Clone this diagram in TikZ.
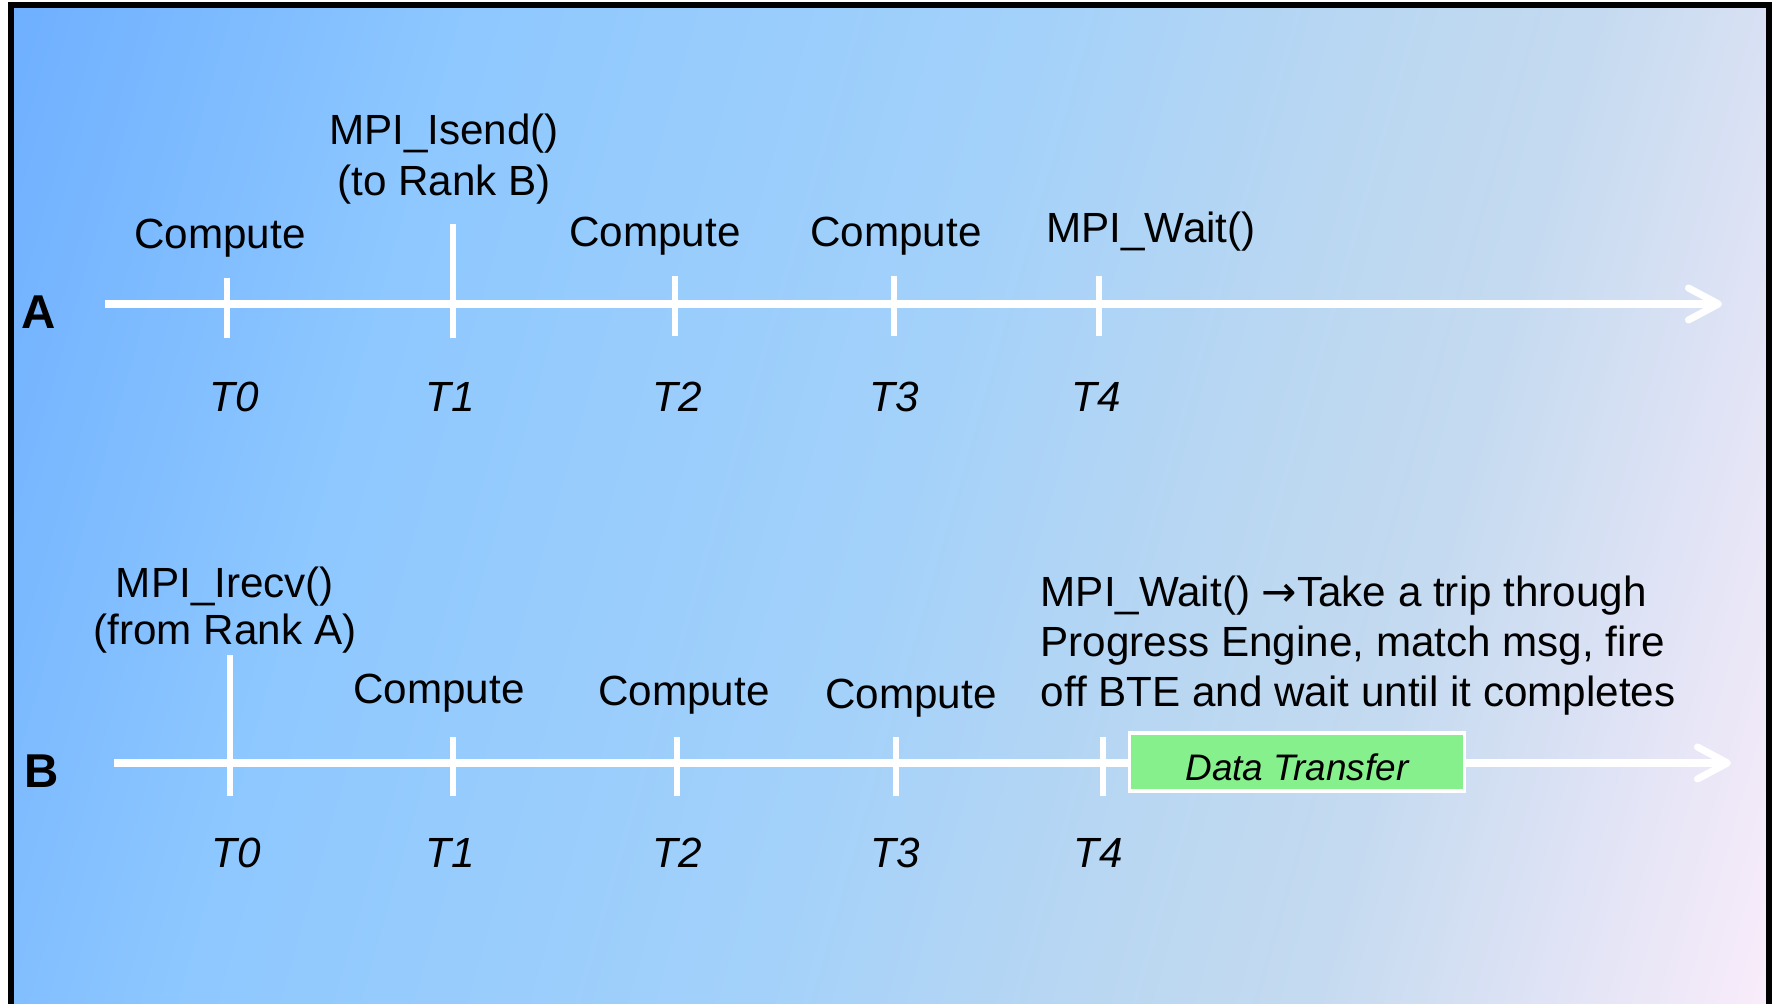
\documentclass[tikz,border=0pt]{standalone}
\usepackage{fontspec}
\setmainfont{Liberation Sans}
\newfontfamily\arrowfont{DejaVu Sans}
\usepackage{tikz}
\usetikzlibrary{arrows.meta}
\definecolor{bgA}{RGB}{110,175,255}
\definecolor{bgB}{RGB}{142,200,255}
\definecolor{bgC}{RGB}{163,209,250}
\definecolor{bgD}{RGB}{185,215,242}
\definecolor{bgE}{RGB}{196,218,240}
\definecolor{bgF}{RGB}{250,236,250}
\definecolor{xfergreen}{RGB}{134,240,140}
\pgfdeclarehorizontalshading{bgshade}{100bp}{color(0bp)=(bgA); color(19bp)=(bgA); color(33bp)=(bgB); color(50bp)=(bgC); color(60bp)=(bgD); color(67bp)=(bgE); color(81bp)=(bgF); color(100bp)=(bgF)}
\tikzset{
timeline/.style={draw=white, line width=2pt, -{Straight Barb[length=3mm,width=3.2mm,round]}},
tickmark/.style={draw=white, line width=1.8pt},
evlabel/.style={font=\fontsize{12}{14.5}\selectfont, align=center, inner sep=0pt},
tlabel/.style={font=\fontsize{12}{14}\selectfont\itshape, inner sep=0pt},
ranklabel/.style={font=\fontsize{13.5}{16}\selectfont\bfseries, inner sep=0pt},
xferbox/.style={draw=white, line width=1pt, fill=xfergreen, minimum width=3.35cm, minimum height=0.58cm, inner sep=0pt, text height=10.6pt, text depth=0pt, font=\fontsize{10.5}{12}\selectfont\itshape}}

\begin{document}
\begin{tikzpicture}[x=0.01cm, y=-0.01cm]
            \useasboundingbox (0,0) rectangle (1776,1004);
                \shade[shading=bgshade, shading angle=-16] (11,5) rectangle (1769,1010);
                \draw[black, line width=1.6pt] (11,1010) -- (11,5) -- (1769,5) -- (1769,1010);

                \coordinate (As) at (105,304);
                \coordinate (Ae) at (1722,304);
                \coordinate (Bs) at (114,763);
                \coordinate (Be) at (1731,763);

                \node[ranklabel] (rA) at (39,312) {A};
                \node[ranklabel] (rB) at (42,771) {B};

                \draw[timeline] (As) -- (Ae);
                \draw[tickmark] (227,278) -- (227,338);
                \draw[tickmark] (453,224) -- (453,338);
                \draw[tickmark] (675,276) -- (675,336);
                \draw[tickmark] (894,276) -- (894,336);
                \draw[tickmark] (1099,276) -- (1099,336);

                \node[evlabel] (a0) at (220,238) {Compute};
                \node[evlabel] (a1) at (444,159) {MPI\_Isend()\\(to Rank B)};
                \node[evlabel] (a2) at (655,236) {Compute};
                \node[evlabel] (a3) at (896,236) {Compute};
                \node[evlabel] (a4) at (1151,232) {MPI\_Wait()};

                \node[tlabel] (ta0) at (234,397) {T0};
                \node[tlabel] (ta1) at (450,397) {T1};
                \node[tlabel] (ta2) at (677,397) {T2};
                \node[tlabel] (ta3) at (894,397) {T3};
                \node[tlabel] (ta4) at (1096,397) {T4};

                \draw[timeline] (Bs) -- (Be);
                \draw[tickmark] (230,655) -- (230,796);
                \draw[tickmark] (453,737) -- (453,796);
                \draw[tickmark] (677,737) -- (677,796);
                \draw[tickmark] (896,737) -- (896,796);
                \draw[tickmark] (1103,737) -- (1103,796);

                \node[evlabel, font=\fontsize{12}{13.5}\selectfont] (b0) at (225,610) {MPI\_Irecv()\\(from Rank A)};
                \node[evlabel] (b1) at (439,693) {Compute};
                \node[evlabel] (b2) at (684,695) {Compute};
                \node[evlabel] (b3) at (911,698) {Compute};
                \node[evlabel, font=\fontsize{12}{14.2}\selectfont, align=left, anchor=west] (b4) at (1040,646) {MPI\_Wait() {\arrowfont →}Take a trip through\\Progress Engine, match msg, fire\\off BTE and wait until it completes};
                \node[xferbox] (xfer) at (1297,762) {Data Transfer};

                \node[tlabel] (tb0) at (236,853) {T0};
                \node[tlabel] (tb1) at (450,853) {T1};
                \node[tlabel] (tb2) at (677,853) {T2};
                \node[tlabel] (tb3) at (895,853) {T3};
                \node[tlabel] (tb4) at (1098,853) {T4};

            \end{tikzpicture}
\end{document}
